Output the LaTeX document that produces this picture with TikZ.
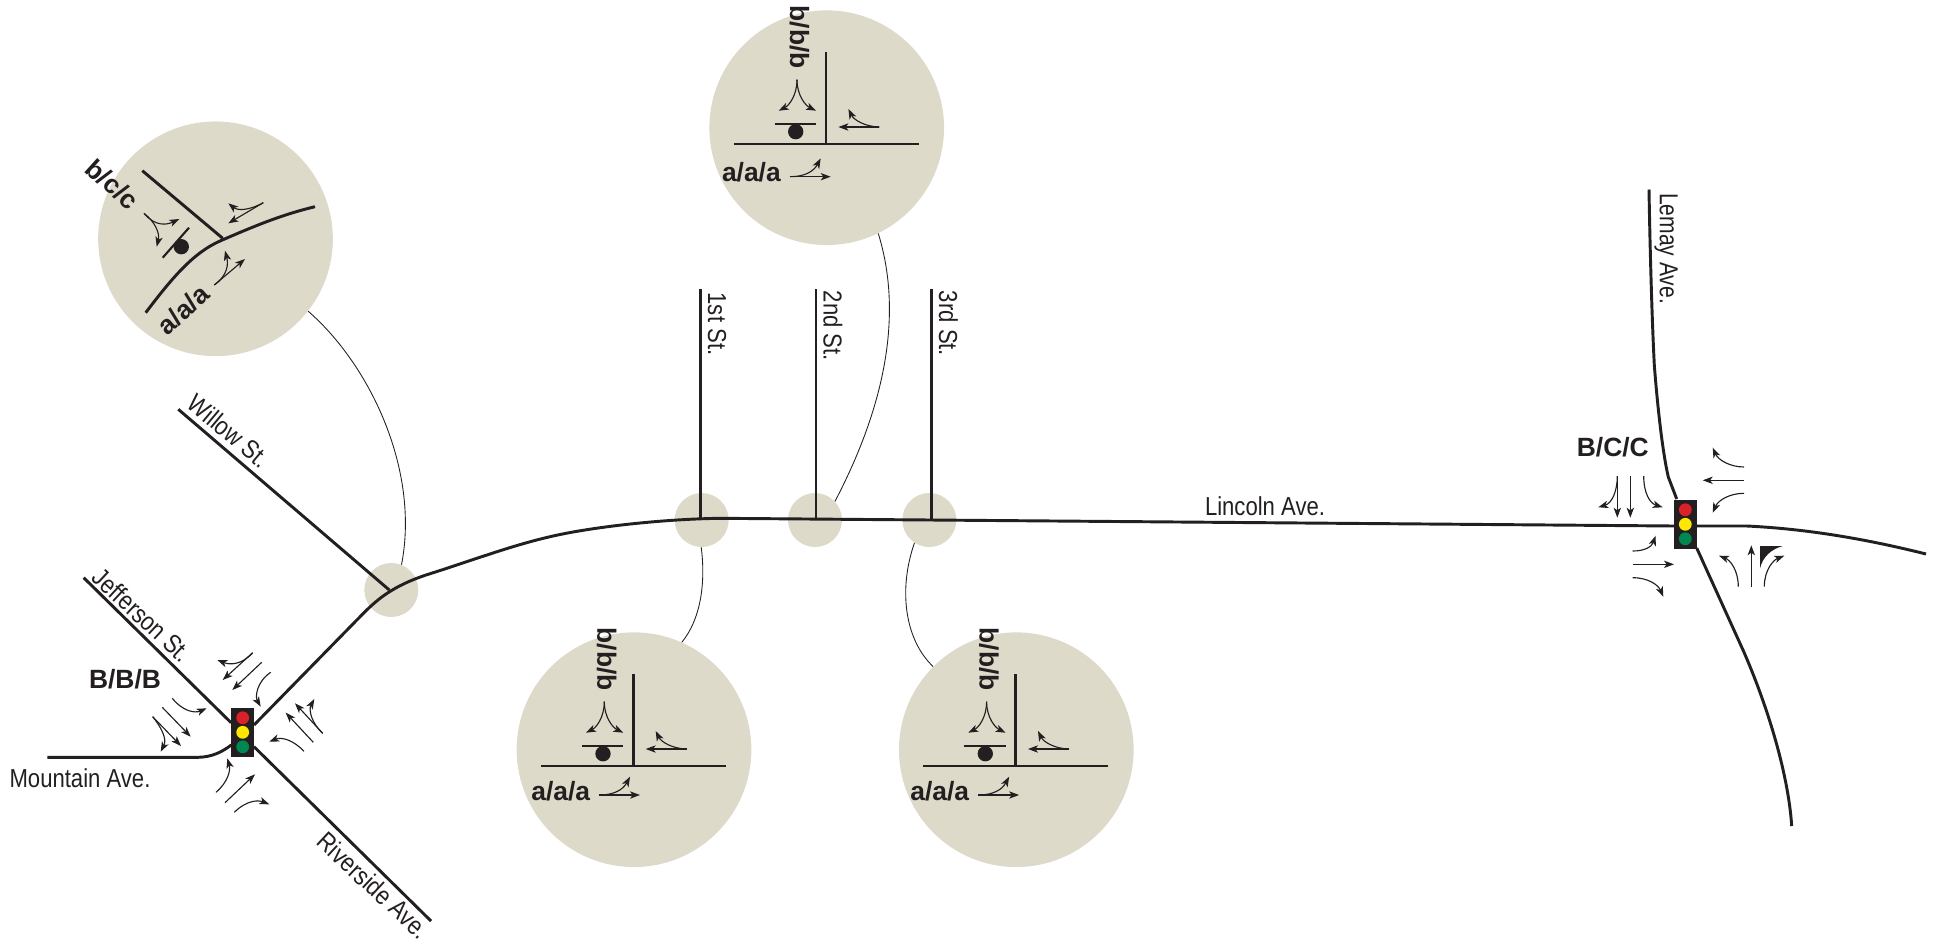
\documentclass[tikz,border=0pt]{standalone}
\usepackage{fontspec}
\setmainfont{Liberation Sans}
\newfontfamily\narrowfont[FakeStretch=0.85]{Liberation Sans}
\newfontfamily\tightfont[FakeStretch=0.81]{Liberation Sans}
\usetikzlibrary{arrows.meta}
\definecolor{ink}{HTML}{231F20}
\definecolor{disc}{HTML}{DDDACA}
\definecolor{lampred}{HTML}{DA2128}
\definecolor{lampyellow}{HTML}{FFE800}
\definecolor{lampgreen}{HTML}{008752}
\tikzset{
  x=0.75pt,y=-0.75pt,
  road/.style={draw=ink,line width=2.2pt},
  barline/.style={draw=ink,line width=1.6pt},
  move/.style={draw=ink,line width=0.85pt,-{Stealth[length=7.5pt,width=5.5pt,inset=2pt]}},
  leader/.style={draw=ink,line width=0.65pt},
  bigdisc/.style={circle,fill=disc,inner sep=0pt,minimum size=176pt},
  smalldisc/.style={circle,fill=disc,inner sep=0pt,minimum size=40.5pt},
  street/.style={text=ink,inner sep=0pt,font=\narrowfont\fontsize{19.5}{22}\selectfont},
  grade/.style={text=ink,inner sep=0pt,font=\bfseries\fontsize{19.8}{22}\selectfont},
  lamp/.style={circle,inner sep=0pt,minimum size=9.6pt},
  signalbox/.style={fill=ink,inner sep=0pt,minimum width=17pt,minimum height=36.4pt},
  stopdot/.style={circle,fill=ink,inner sep=0pt,minimum size=11.5pt},
}
% T-intersection disc: #1 name, #2 cx, #3 cy, #4 dx and #5 dy of the major-road group
\newcommand{\tdisc}[5]{%
  \node[bigdisc] (#1) at (#2,#3) {};
  \begin{scope}[shift={(#2,#3)}]
    \coordinate (#1-n) at (-0.7,-75.3);
    \coordinate (#1-j) at (-0.7,16.3);
    \coordinate (#1-w) at (-93,16.3);
    \coordinate (#1-e) at (92,16.3);
    \draw[road] (#1-n) -- (#1-j);
    \draw[road] (#1-w) -- (#1-e);
    \coordinate (#1-s1) at (-52,-3.3);
    \coordinate (#1-s2) at (-10.7,-3.3);
    \draw[barline] (#1-s1) -- (#1-s2);
    \node[stopdot] (#1-dot) at (-31,4) {};
    \node[grade,rotate=-90] (#1-minor) at (-27.3,-90.5) {b/b/b};
    \draw[move] (-29.7,-48) .. controls (-29.7,-32) and (-38,-22) .. (-48,-17);
    \draw[move] (-29.7,-48) .. controls (-29.7,-32) and (-21,-22) .. (-10.7,-17);
    \draw[move] (52.7,-0.7) -- (11.7,-0.7);
    \draw[move] (52.7,-0.7) .. controls (38,-1) and (27,-8) .. (21.7,-18.7);
    \begin{scope}[shift={(#4,#5)}]
      \node[grade] (#1-major) at (-73.3,41.2) {a/a/a};
      \draw[move] (-34.7,45.3) -- (6,45.3);
      \draw[move] (-34.7,45.3) .. controls (-20,45.3) and (-11,40) .. (-4,27);
    \end{scope}
  \end{scope}
}
\newcommand{\signal}[3]{%
  \node[signalbox] (#1) at (#2,#3) {};
  \node[lamp,fill=lampred] (#1-r) at (#2,#3-14.5) {};
  \node[lamp,fill=lampyellow] (#1-y) at (#2,#3) {};
  \node[lamp,fill=lampgreen] (#1-g) at (#2,#3+14.5) {};
}
\begin{document}
\begin{tikzpicture}
\useasboundingbox (0,0) rectangle (1935,943);
% discs
\node[smalldisc] (willow) at (391.3,590) {};
\node[smalldisc] (first) at (701.7,520) {};
\node[smalldisc] (second) at (815,520) {};
\node[smalldisc] (third) at (929.3,520) {};
\tdisc{top}{826.7}{127.7}{-2}{3.7}
\tdisc{low}{634}{749.7}{0}{0}
\tdisc{lowr}{1016.3}{749.7}{-3.2}{0}
% Y disc
\node[bigdisc] (ydisc) at (215.5,238.8) {};
\coordinate (y1) at (142.3,170.7);
\coordinate (y2) at (222.7,238.3);
\draw[road] (y1) -- (y2);
\draw[road] (145.7,312.7) .. controls (172,278) and (193,253) .. (220,241) .. controls (250,228) and (280,215) .. (315,206.7);
\coordinate (y3) at (189,227.7);
\coordinate (y4) at (162.7,257.7);
\draw[barline] (y3) -- (y4);
\node[stopdot] (ydot) at (181.3,246.7) {};
\node[grade,rotate=-42] (yminor) at (112.3,184.3) {b/c/c};
\node[grade,rotate=42] (ymajor) at (183.3,309.5) {a/a/a};
\draw[move] (263.3,202.7) -- (228.3,223.3);
\draw[move] (263.3,202.7) .. controls (246.7,211.7) and (236.7,210) .. (228.3,203.3);
\draw[move] (214.3,285) -- (245,259);
\draw[move] (214.3,285) .. controls (228.3,275) and (228.3,263.3) .. (225,250.7);
\draw[move] (144,213.3) .. controls (155,226.7) and (166.7,225) .. (179.3,219);
\draw[move] (144,213.3) .. controls (155,221.7) and (160,233.3) .. (156.7,246.7);
% leaders
\draw[leader] (ydisc.-38.3) .. controls (370,365) and (420,470) .. (willow.68);
\draw[leader] (top.-64.3) .. controls (902,310) and (888,400) .. (second.43.5);
\draw[leader] (first.-91.5) .. controls (706,585) and (700,620) .. (low.66.7);
\draw[leader] (third.-123.5) .. controls (898,590) and (905,640) .. (lowr.135.9);
% signals
\signal{sa}{242.7}{732.3}
\signal{sb}{1685.3}{524.3}
% roads
\coordinate (jeff) at (83.7,577.7);
\coordinate (river) at (431,921);
\coordinate (mount) at (47.3,757.3);
\coordinate (willowend) at (178.3,409.3);
\coordinate (willowj) at (389.3,590);
\coordinate (st1) at (700.3,289);
\coordinate (st1j) at (700.3,519.3);
\coordinate (st2) at (816,289);
\coordinate (st2j) at (816,519.5);
\coordinate (st3) at (931.7,289);
\coordinate (st3j) at (931.7,520.5);
\coordinate (lemay) at (1649,189.5);
\coordinate (southend) at (1791.7,826);
\coordinate (eastend) at (1926,554);
\draw[road] (jeff) -- (sa.north west |- 0,722.7);
\draw[road] (254,746.7) -- (river);
\draw[road] (mount) -- (198.3,757.3) .. controls (212,757) and (222,752) .. (231.3,745);
\draw[road] (willowend) -- (willowj);
\draw[road] (254,725) -- (365,611.7) .. controls (378,599) and (393,586) .. (426,575) .. controls (480,558) and (520,542) .. (567.6,533) .. controls (610,525) and (670,519) .. (720,518.3) -- (1674,526);
\draw[road] (st1) -- (st1j);
\draw[road] (st2) -- (st2j);
\draw[road] (st3) -- (st3j);
\draw[road] (lemay) .. controls (1650,250) and (1652,320) .. (1654.3,365) .. controls (1657,400) and (1662,450) .. (1668.3,477) -- (1676.7,499);
\draw[road] (1696.7,548) -- (1743,650) .. controls (1765,700) and (1788,770) .. (southend);
\draw[road] (1696.7,526) -- (1746.7,526) .. controls (1810,529) and (1870,540) .. (eastend);
% street labels
\node[street,rotate=-43] (ljeff) at (142,615) {Jefferson St.};
\node[street,rotate=-43] (lriver) at (373.5,885.5) {Riverside Ave.};
\node[street,rotate=-40] (lwill) at (228.7,431) {Willow St.};
\node[street] (lmount) at (80,778) {Mountain Ave.};
\node[street] (llinc) at (1265,506) {Lincoln Ave.};
\node[street,rotate=-90] (l1) at (717,324) {1st St.};
\node[street,rotate=-90] (l2) at (833,326) {2nd St.};
\node[street,rotate=-90] (l3) at (948.3,323.5) {3rd St.};
\node[street,rotate=-90,font=\tightfont\fontsize{19.5}{22}\selectfont] (l4) at (1666,248.5) {Lemay Ave.};
\node[grade] (gb) at (125,679.3) {B/B/B};
\node[grade] (gc) at (1612.8,447.3) {B/C/C};
% movements at signal A
\draw[move] (252.7,652.7) -- (222.7,680);
\draw[move] (252.7,652.7) .. controls (241.7,665) and (230,665) .. (217.3,660);
\draw[move] (261.7,662.3) -- (232.3,690);
\draw[move] (270.7,672.3) .. controls (256.7,681.7) and (255,696.7) .. (260.7,706.7);
\draw[move] (172.3,698.3) .. controls (183.3,711.7) and (195,713.3) .. (206.7,708.3);
\draw[move] (162.3,707.3) -- (190.7,736.7);
\draw[move] (152.7,716.7) -- (181,746);
\draw[move] (152.7,716.7) .. controls (163.3,730) and (166.7,740) .. (160.7,751.7);
\draw[move] (216,792.3) .. controls (228.3,781.7) and (230.7,770) .. (227.3,758.3);
\draw[move] (225,802.7) -- (255,774.3);
\draw[move] (234.3,812.3) .. controls (246.7,800) and (258.3,800) .. (269.3,804.3);
\draw[move] (304,751.3) .. controls (293.3,740) and (281.7,736.7) .. (269.3,741.7);
\draw[move] (313.3,742.3) -- (285.7,712.7);
\draw[move] (322.7,733.3) -- (295,703.3);
\draw[move] (322.7,733.3) .. controls (311.7,723.3) and (308.3,710) .. (314.3,699);
% movements at signal B
\draw[move] (1617.3,476) -- (1617.3,517.7);
\draw[move] (1617.3,476) .. controls (1617.3,491.7) and (1611.7,503.3) .. (1598.3,507.3);
\draw[move] (1630.3,476) -- (1630.3,517.7);
\draw[move] (1643.7,476) .. controls (1643.7,493.3) and (1650,503.3) .. (1662.7,507.3);
\draw[move] (1632.7,551) .. controls (1645,551) and (1651.7,546.7) .. (1655.7,535.7);
\draw[move] (1632.7,564.3) -- (1674,564.3);
\draw[move] (1632.7,577.7) .. controls (1648.3,577.7) and (1658.3,585) .. (1663.3,596.7);
\draw[move] (1744,467) .. controls (1730,467) and (1718.3,460) .. (1712.7,447.7);
\draw[move] (1744,480.3) -- (1702.7,480.3);
\draw[move] (1744,493.3) .. controls (1730,493.3) and (1718.3,500) .. (1712.7,512.7);
\draw[move] (1738.3,586.7) .. controls (1738.3,570) and (1730,560) .. (1719,555.7);
\draw[move] (1751.3,586.7) -- (1751.3,545.3);
\draw[move] (1764.3,586.7) .. controls (1764.3,570) and (1773.3,560) .. (1784.3,555.7);
% channelised right-turn wedge
\fill[ink] (1760,546) -- (1782.7,546) .. controls (1772,549) and (1763,556) .. (1760,568.3) -- cycle;
\end{tikzpicture}
\end{document}
